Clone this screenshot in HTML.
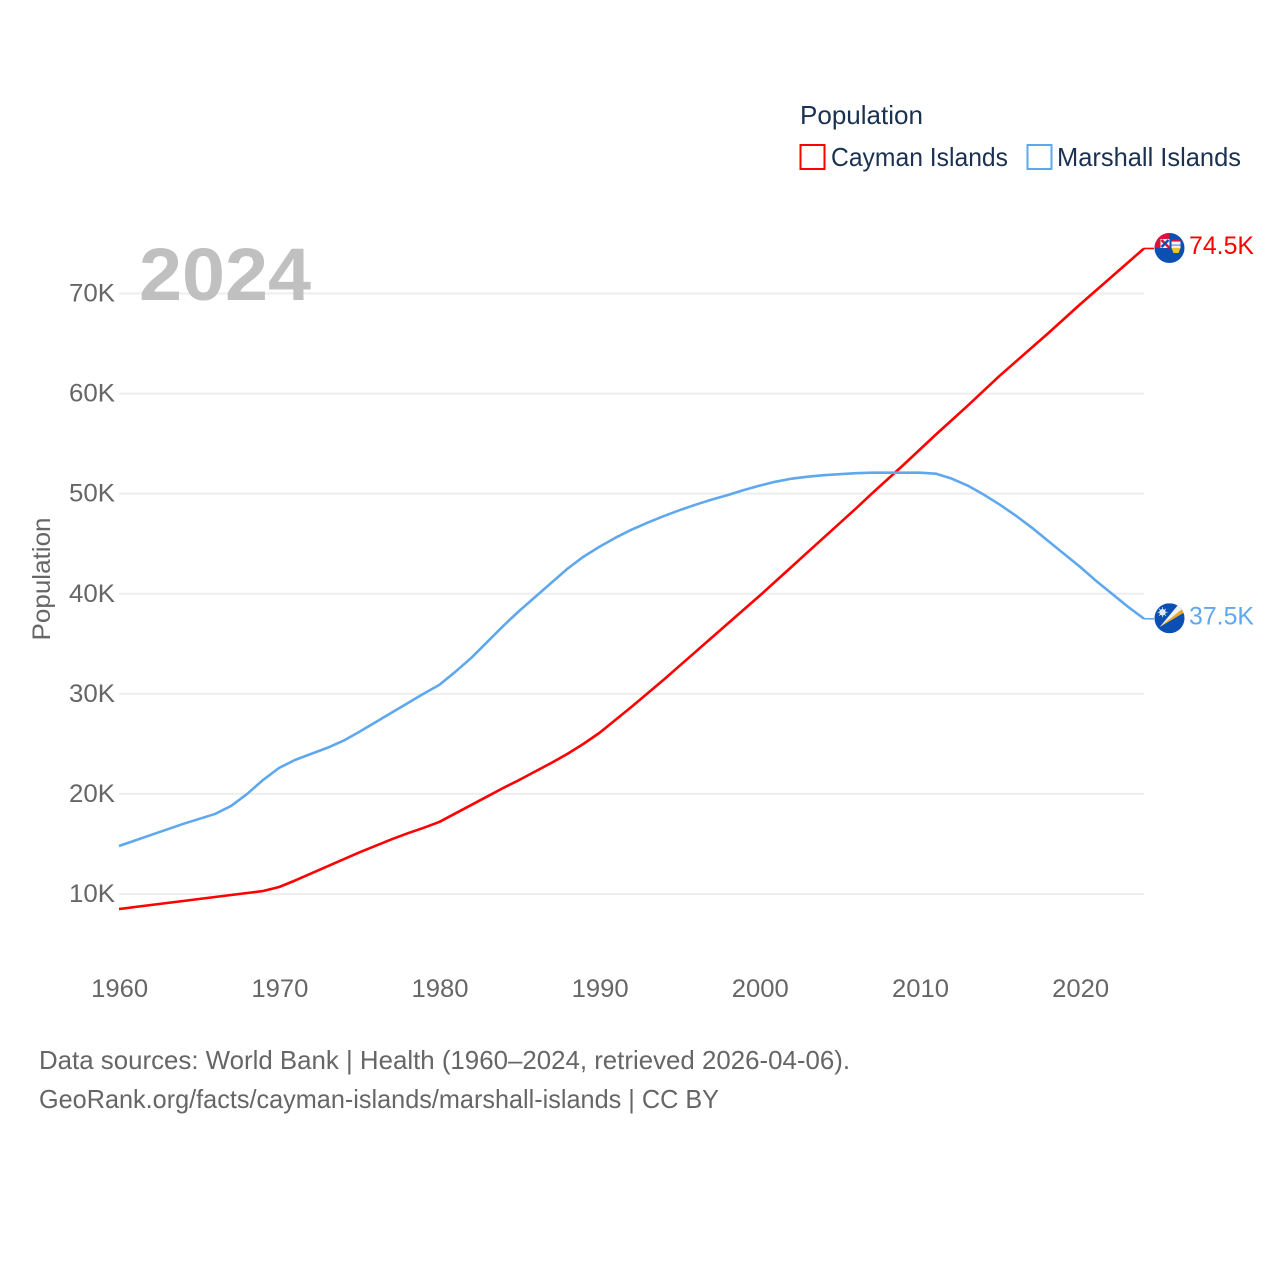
<!DOCTYPE html>
<html lang="en">
<head>
<meta charset="utf-8">
<title>Population: Cayman Islands and Marshall Islands</title>
<style>
html,body{margin:0;padding:0;background:#fff;width:1280px;height:1280px;overflow:hidden}
svg{display:block}
text{font-family:"Liberation Sans",sans-serif}
</style>
</head>
<body>
<svg id="chart" width="1280" height="1280" viewBox="0 0 1280 1280" xmlns="http://www.w3.org/2000/svg">
<rect width="1280" height="1280" fill="#ffffff"/>
<defs>
<clipPath id="flag-clip-a"><circle cx="0" cy="0" r="15"/></clipPath>
<clipPath id="flag-clip-b"><circle cx="0" cy="0" r="15"/></clipPath>
</defs>
<g id="grid"></g>
<g id="yticks"></g>
<g id="xticks"></g>
<text x="139" y="300" font-size="74" font-weight="700" fill="#c0c0c0" textLength="172" lengthAdjust="spacingAndGlyphs">2024</text>
<text transform="translate(50,579) rotate(-90)" text-anchor="middle" font-size="25" fill="#666666" textLength="123" lengthAdjust="spacingAndGlyphs">Population</text>
<g id="lines"></g>
<g id="ends"></g>
<g>
<text x="800" y="124" font-size="26" fill="#1a3152" textLength="123" lengthAdjust="spacingAndGlyphs">Population</text>
<g>
<rect x="800.5" y="145" width="24" height="24" fill="#fff" stroke="#ff0000" stroke-width="2"/>
<text x="831" y="166" font-size="26" fill="#1a3152" textLength="177" lengthAdjust="spacingAndGlyphs">Cayman Islands</text>
</g>
<g>
<rect x="1027.5" y="145" width="24" height="24" fill="#fff" stroke="#5fa8ee" stroke-width="2"/>
<text x="1057" y="166" font-size="26" fill="#1a3152" textLength="184" lengthAdjust="spacingAndGlyphs">Marshall Islands</text>
</g>
</g>
<text x="39" y="1069" font-size="26" fill="#666666" textLength="811" lengthAdjust="spacingAndGlyphs">Data sources: World Bank | Health (1960–2024, retrieved 2026-04-06).</text>
<text x="39" y="1108" font-size="26" fill="#666666" textLength="680" lengthAdjust="spacingAndGlyphs">GeoRank.org/facts/cayman-islands/marshall-islands | CC BY</text>
</svg>
<script>
const startYear = 1960;
const xTickYears = [1960, 1970, 1980, 1990, 2000, 2010, 2020];
const yTickValues = [10000, 20000, 30000, 40000, 50000, 60000, 70000];
const yTickLabels = ["10K", "20K", "30K", "40K", "50K", "60K", "70K"];
const caymanValues = [8500,8700,8900,9100,9300,9500,9700,9900,10100,10300,10700,11350,12050,12750,13450,14150,14800,15450,16050,16600,17200,18050,18900,19750,20600,21400,22250,23100,24000,25000,26100,27400,28700,30050,31400,32800,34200,35600,37000,38400,39800,41250,42700,44150,45600,47050,48500,50000,51450,52900,54400,55900,57350,58800,60300,61800,63200,64600,66000,67450,68900,70300,71700,73100,74500];
const marshallValues = [14800,15350,15900,16450,17000,17500,18000,18800,20000,21400,22600,23400,24000,24600,25300,26200,27150,28100,29050,30000,30900,32200,33600,35200,36800,38300,39700,41100,42500,43700,44700,45600,46400,47100,47750,48350,48900,49400,49850,50350,50800,51200,51500,51700,51850,51950,52050,52100,52100,52100,52100,52000,51500,50800,49900,48900,47800,46600,45300,44000,42700,41300,40000,38700,37500];
const caymanLabel = "74.5K";
const marshallLabel = "37.5K";

const NS = "http://www.w3.org/2000/svg";
const xScale = function (year) { return 119 + (year - 1960) * (1144 - 119) / 64; };
const yScale = function (value) { return 894 - (value - 10000) * (894 - 293.5) / 60000; };

function make(tag, attrs, parent) {
  const el = document.createElementNS(NS, tag);
  for (const k in attrs) el.setAttribute(k, attrs[k]);
  parent.appendChild(el);
  return el;
}

const gridGroup = document.getElementById("grid");
const yGroup = document.getElementById("yticks");
yTickValues.forEach(function (v, i) {
  const gl = make("line", {x1: 119, x2: 1144, y1: yScale(v), y2: yScale(v), stroke: "#eeeeee", "stroke-width": 2}, gridGroup);
  
  
  const t = make("text", {x: 115, y: yScale(v) + 8, "text-anchor": "end", "font-size": 25, fill: "#666666", textLength: 46, lengthAdjust: "spacingAndGlyphs"}, yGroup);
  
  
  t.textContent = yTickLabels[i];
});

const xGroup = document.getElementById("xticks");
xTickYears.forEach(function (yr) {
  const t = make("text", {x: xScale(yr) + 0.7, y: 997, "text-anchor": "middle", "font-size": 25, fill: "#666666", textLength: 57, lengthAdjust: "spacingAndGlyphs"}, xGroup);
  
  
  t.textContent = String(yr);
});

function linePath(values) {
  return values.map(function (v, i) {
    return (i ? "L" : "M") + xScale(startYear + i).toFixed(2) + " " + yScale(v).toFixed(2);
  }).join(" ");
}

const lineGroup = document.getElementById("lines");
const caymanLine = make("path", {d: linePath(caymanValues), fill: "none", stroke: "#ff0000", "stroke-width": 2.6, "stroke-linejoin": "round"}, lineGroup);


const marshallLine = make("path", {d: linePath(marshallValues), fill: "none", stroke: "#5fa8ee", "stroke-width": 2.6, "stroke-linejoin": "round"}, lineGroup);



const endGroup = document.getElementById("ends");
const lastYear = startYear + caymanValues.length - 1;
const endX = xScale(lastYear);

/* Cayman end marker */
const cayY = yScale(caymanValues[caymanValues.length - 1]);
const cayConn = make("line", {x1: endX, x2: endX + 10, y1: cayY, y2: cayY, stroke: "#ff0000", "stroke-width": 1.6}, endGroup);


const cayFlag = make("g", {transform: "translate(" + (endX + 25.5) + "," + (cayY - 0.5) + ")", "clip-path": "url(#flag-clip-a)"}, endGroup);


make("rect", {x: -15, y: -15, width: 30, height: 30, fill: "#0b4fb3"}, cayFlag);
make("rect", {x: -15, y: -15, width: 15, height: 15, fill: "#d8143a"}, cayFlag);
make("rect", {x: -9, y: -9, width: 9, height: 9, fill: "#f4f4f8"}, cayFlag);
make("path", {d: "M-8 -8L0 0", stroke: "#d8143a", "stroke-width": 2.5}, cayFlag);
make("path", {d: "M-8 -1L-1 -8", stroke: "#0b4fb3", "stroke-width": 2.5}, cayFlag);
make("rect", {x: 2, y: -8, width: 9, height: 8, fill: "#f4f4f4"}, cayFlag);
make("rect", {x: 2, y: -8, width: 9, height: 1.6, fill: "#d8143a"}, cayFlag);
make("rect", {x: 2, y: -3.5, width: 9, height: 1.4, fill: "#5fa8ee"}, cayFlag);
make("path", {d: "M2 0H11L9 5H4Z", fill: "#f2c230"}, cayFlag);
const cayText = make("text", {x: endX + 45, y: cayY + 5.5, "font-size": 25, fill: "#ff0000", textLength: 65, lengthAdjust: "spacingAndGlyphs"}, endGroup);


cayText.textContent = caymanLabel;

/* Marshall end marker */
const marY = yScale(marshallValues[marshallValues.length - 1]);
const marConn = make("line", {x1: endX, x2: endX + 10, y1: marY, y2: marY, stroke: "#5fa8ee", "stroke-width": 1.6}, endGroup);


const marFlag = make("g", {transform: "translate(" + (endX + 25.5) + "," + (marY - 0.5) + ")", "clip-path": "url(#flag-clip-b)"}, endGroup);


make("rect", {x: -15, y: -15, width: 30, height: 30, fill: "#0b4fb3"}, marFlag);
make("path", {d: "M-10 9L15 -11V-6Z", fill: "#f6a623"}, marFlag);
make("path", {d: "M-10 9L10 -15H15V-11Z", fill: "#f2f2f2"}, marFlag);
make("circle", {cx: -7, cy: -6, r: 3.2, fill: "#e8eef8"}, marFlag);
make("path", {d: "M-7 -11V-1M-12 -6H-2M-10.5 -9.5L-3.5 -2.5M-3.5 -9.5L-10.5 -2.5", stroke: "#dfe8f6", "stroke-width": 0.8}, marFlag);
const marText = make("text", {x: endX + 45, y: marY + 5.5, "font-size": 25, fill: "#5fa8ee", textLength: 65, lengthAdjust: "spacingAndGlyphs"}, endGroup);


marText.textContent = marshallLabel;
</script>
</body>
</html>
